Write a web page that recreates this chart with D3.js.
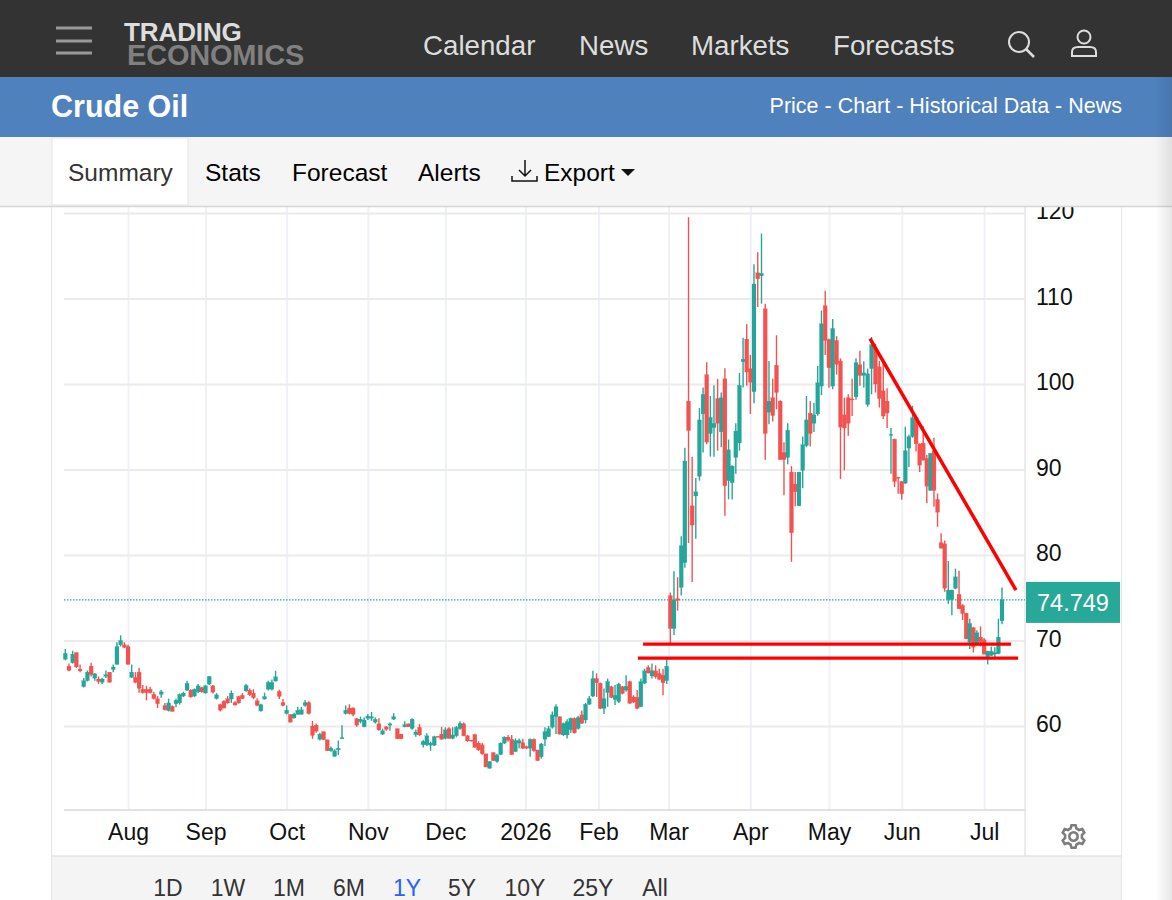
<!DOCTYPE html>
<meta charset="utf-8">
<style>
html, body { margin: 0; padding: 0; background: #fff; overflow: hidden; }
svg { display: block; }
text { font-family: "Liberation Sans", Arial, sans-serif; }
.grid line { stroke: #ebebeb; stroke-width: 2px; }
.grid path { display: none; }
.vgrid line { stroke: #eef2f6; stroke-width: 2px; }
.vgrid path, .vgrid text { display: none; }
.axis path, .axis line { display: none; }
.axis text { font-size: 23px; fill: #111; }
.nav { font-size: 27.7px; fill: #ddd; }
.tab { font-size: 24.5px; fill: #000; }
.range { font-size: 23px; fill: #333; text-anchor: middle; }
</style>
<body>
<script src="https://d3js.org/d3.v7.min.js"></script>
<script>

var priceTicks = [60, 70, 80, 90, 100, 110, 120];
var monthLabels = ["Aug", "Sep", "Oct", "Nov", "Dec", "2026", "Feb", "Mar", "Apr", "May", "Jun", "Jul"];
var monthBars = [17, 38, 60, 82, 103, 124.7, 144.5, 163.5, 186, 207, 226, 249];
var lastPrice = 74.749;

var opens = [
  67.8,67.0,67.4,68.6,66.65,64.6,65.3,67.0,65.6,65.5,
  65.1,65.8,66.3,66.6,67.2,69.5,69.5,69.3,65.7,65.7,
  66.3,64.3,64.3,64.3,63.7,63.2,63.7,62.4,61.8,62.3,
  62.6,62.7,63.5,64.2,64.2,63.5,64.0,64.5,63.85,64.9,
  64.7,63.2,62.5,62.9,63.2,63.15,62.75,63.45,63.6,64.1,
  64.2,63.85,62.95,61.75,63.15,64.3,64.3,65.25,64.05,62.75,
  61.45,61.35,60.95,61.35,61.35,62.4,62.75,60.0,60.1,58.45,
  59.35,58.4,57.1,56.45,57.2,58.5,61.45,62.1,62.1,60.85,
  60.5,59.9,60.9,60.9,60.45,60.25,59.05,59.9,60.1,60.8,
  59.7,59.05,59.9,60.25,59.7,59.0,59.85,57.8,57.8,57.75,
  57.75,58.8,59.05,58.55,59.7,58.55,58.85,59.7,60.25,58.85,
  58.35,59.0,58.0,57.8,56.75,55.05,56.9,55.85,56.65,58.0,
  58.7,58.45,57.0,58.0,58.05,57.6,57.4,58.45,57.2,56.4,
  58.45,58.75,59.85,61.1,61.1,58.95,58.95,59.55,60.9,59.7,
  61.3,60.7,62.55,63.5,65.55,65.0,62.05,63.9,64.6,63.1,
  62.85,64.6,64.2,65.2,63.4,63.35,62.25,65.0,66.85,65.85,
  66.45,66.15,65.95,65.3,75.25,71.4,74.9,76.2,79.1,98.0,
  85.75,86.9,89.2,96.5,101.1,94.2,94.9,98.3,94.4,100.6,
  88.7,88.45,91.4,93.1,102.6,105.25,101.8,99.1,113.0,112.65,
  108.8,96.7,98.4,102.2,98.0,92.0,91.4,89.7,88.3,85.75,
  89.9,92.8,96.6,95.4,96.5,99.75,109.15,105.2,99.75,105.1,
  102.7,96.4,98.4,98.25,98.5,102.25,101.0,97.6,101.8,104.2,102.0,
  99.2,98.0,94.0,93.55,89.1,88.6,88.4,92.5,93.85,96.05,
  93.0,93.1,91.3,87.55,92.2,86.5,81.45,81.3,74.8,74.8,
  76.1,75.4,74.1,73.2,69.8,71.5,69.6,70.4,70.1,68.1,68.25,68.4,68.45,72.3
];
var highs = [
  69.0,67.3,68.8,68.6,67.2,65.6,66.5,67.4,66.2,65.8,
  65.6,66.5,66.3,67.2,69.8,70.6,69.8,69.5,67.2,66.3,
  66.8,64.8,64.7,64.6,64.0,63.5,64.2,62.7,63.2,62.4,
  63.2,63.8,64.0,65.3,64.3,64.4,64.9,64.6,64.8,65.85,
  64.8,63.85,62.6,63.0,63.5,64.15,62.9,63.55,63.85,64.9,
  64.4,64.3,63.25,62.6,63.9,65.3,65.45,66.45,64.25,63.15,
  62.4,61.35,61.55,62.25,62.25,63.05,62.9,60.6,60.3,59.2,
  59.35,58.4,57.6,57.3,58.3,60.1,62.4,62.55,62.2,60.95,
  61.1,61.0,61.4,61.65,61.0,60.9,59.7,60.0,60.4,61.5,
  59.7,59.1,60.55,60.3,60.9,59.6,60.25,58.35,59.15,58.15,
  58.85,58.8,59.9,59.85,59.85,59.85,60.0,60.55,60.4,58.95,
  58.4,59.1,58.2,58.0,56.75,55.9,56.9,56.75,58.1,58.8,
  58.95,58.95,58.55,58.55,58.5,57.7,58.55,58.55,57.2,58.0,
  59.85,60.0,61.7,62.55,61.1,60.4,60.8,61.0,61.0,61.2,
  61.8,62.7,63.5,66.45,66.15,65.1,64.4,65.55,64.7,64.8,
  65.05,64.7,65.95,65.3,63.6,64.2,65.55,66.7,67.1,67.3,
  67.1,66.7,66.7,67.8,75.6,78.1,77.4,82.2,92.55,119.5,
  91.5,89.0,97.2,99.6,102.55,98.6,99.85,100.6,99.0,101.85,
  93.5,90.5,95.4,101.3,105.4,107.0,103.4,114.0,115.4,117.6,
  109.4,102.7,100.6,105.7,98.1,93.2,95.4,90.4,89.7,89.75,
  93.85,98.6,98.0,97.8,102.1,108.6,110.9,105.3,107.6,105.6,
  103.0,98.4,98.8,100.6,103.0,103.9,102.65,101.8,105.5,104.7,102.7,
  102.75,99.5,94.85,93.6,89.15,88.65,95.0,94.05,97.45,96.1,
  93.05,95.05,91.7,91.9,93.7,87.2,82.55,81.7,79.3,75.95,
  78.4,78.15,74.25,73.25,72.55,71.6,71.2,71.65,70.3,68.8,69.3,69.2,72.55,76.2
];
var lows = [
  67.7,66.4,67.3,66.8,66.3,64.5,65.2,65.8,65.3,64.9,
  64.9,65.6,65.1,66.3,67.2,69.3,69.1,67.2,65.6,65.0,
  63.9,63.8,63.0,63.8,63.1,62.1,63.3,61.8,61.7,61.7,
  62.2,62.5,63.4,64.1,63.3,63.4,63.85,63.9,63.8,64.8,
  63.8,63.1,61.7,62.05,62.6,62.7,62.4,62.6,63.15,64.0,
  63.5,63.15,62.3,61.7,63.1,64.15,64.15,65.2,63.15,62.3,
  61.35,60.4,60.85,61.35,61.35,62.25,61.35,58.5,59.2,58.3,
  58.35,57.1,57.0,56.4,56.6,58.5,61.35,61.35,61.15,59.9,
  60.3,59.85,60.7,60.6,60.3,59.45,58.95,59.45,59.45,60.7,
  58.5,58.45,59.85,59.9,59.55,58.75,58.85,57.5,57.65,57.1,
  57.65,58.65,58.4,58.45,58.5,58.45,58.7,59.55,58.8,58.15,
  58.2,57.45,57.1,56.65,55.2,55.0,55.9,55.7,56.6,57.9,
  58.15,56.6,56.95,57.4,57.3,57.3,56.4,57.0,55.9,56.2,
  57.65,58.7,59.7,59.05,59.0,58.85,58.55,59.2,59.1,59.6,
  60.25,60.3,62.45,63.4,63.4,62.0,61.4,62.25,63.25,62.45,
  62.7,63.7,64.0,62.6,62.7,61.95,62.2,64.9,66.15,65.55,
  65.55,65.4,63.6,64.9,69.65,70.65,73.5,75.25,78.5,81.4,
  76.85,81.9,88.7,92.0,92.95,91.5,91.5,92.2,92.6,84.6,
  86.5,86.5,89.5,92.2,99.6,99.8,96.5,97.75,109.0,109.4,
  91.15,95.3,95.6,97.05,91.15,87.0,90.6,79.2,85.7,85.7,
  87.8,92.6,92.7,94.4,96.3,98.7,103.4,99.55,99.4,101.1,
  88.9,89.9,93.95,96.25,98.15,99.8,99.6,97.35,98.8,99.0,97.25,
  95.9,94.85,89.5,87.95,87.15,86.45,88.3,90.3,93.7,92.1,
  89.7,91.05,86.05,87.5,85.65,83.3,80.75,75.7,74.3,72.95,
  76.0,73.65,72.4,70.15,69.0,68.6,69.4,69.3,68.35,67.2,68.2,68.0,68.4,71.9
];
var closes = [
  68.5,66.5,68.4,66.9,66.45,65.3,66.3,66.0,66.1,65.2,
  65.5,66.0,65.1,66.9,69.3,70.0,69.2,67.2,66.3,65.1,
  64.4,63.9,63.9,63.9,63.2,62.6,64.0,61.9,62.7,61.7,
  63.0,63.7,63.85,65.0,63.4,64.3,64.7,64.0,64.7,65.8,
  63.95,63.65,61.85,62.1,62.7,63.85,62.45,62.7,63.2,64.75,
  63.65,63.3,62.4,62.5,63.45,65.1,65.1,65.75,63.45,62.4,
  61.85,60.45,61.4,61.85,61.9,62.75,61.45,58.9,59.4,59.05,
  58.4,57.1,57.4,57.1,57.4,58.65,61.85,61.45,61.35,60.1,
  60.8,60.7,61.15,61.1,60.8,59.55,59.45,59.6,60.25,61.1,
  58.5,58.5,60.15,59.9,60.8,59.3,58.95,58.2,58.85,58.0,
  58.75,58.7,58.45,59.55,58.55,58.95,59.85,60.3,58.85,58.25,
  58.25,57.5,57.2,56.75,55.2,55.85,55.95,56.6,58.0,58.7,
  58.35,56.65,58.3,58.3,57.4,57.4,58.45,57.1,55.95,57.9,
  59.35,59.7,61.3,62.25,59.05,60.3,60.5,60.9,59.2,61.0,
  60.3,62.55,63.2,65.55,65.05,62.05,63.2,65.2,63.35,63.6,
  64.9,63.8,64.65,62.65,62.8,62.05,65.2,66.45,66.2,66.45,
  65.75,65.45,65.05,67.0,71.4,74.75,74.7,81.1,91.0,94.55,
  83.5,87.4,95.8,98.8,93.2,96.1,95.4,95.4,98.4,88.1,
  92.3,90.4,94.5,99.85,102.9,101.4,100.2,111.7,112.3,112.95,
  94.2,98.0,96.3,99.0,91.15,91.15,94.6,82.6,87.4,89.7,
  92.9,95.8,94.2,96.4,100.15,107.05,105.1,101.9,106.5,102.3,
  94.95,94.85,95.4,98.2,102.5,101.0,101.3,101.2,104.6,100.0,98.3,
  96.25,96.6,94.1,88.6,89.0,87.15,92.2,93.85,96.05,93.0,
  90.5,91.1,88.05,91.9,87.55,85.0,80.8,76.1,75.9,75.9,
  77.45,73.7,73.15,70.2,72.0,69.2,70.9,69.8,68.4,68.75,68.75,68.6,70.4,74.75
];

// hand drawn lines on the chart: bar number and price at each end
var trendBars = [217.6, 257.9], trendPrices = [105.3, 75.9];
var upperBars = [156.6, 256.5], upperPrice = 69.57;
var lowerBars = [155.2, 258.5], lowerPrice = 67.93;

var navItems = ["Calendar", "News", "Markets", "Forecasts"];
var tabItems = ["Stats", "Forecast", "Alerts"];
var rangeItems = ["1D", "1W", "1M", "6M", "1Y", "5Y", "10Y", "25Y", "All"];

var width = 1172, height = 900;
var plotLeft = 64, plotRight = 1025, plotBottom = 810, plotTop = 207;
var green = "#26a69a", red = "#f05350";

// bars are not quite evenly spaced over the year, so the scale is pinned in a few places
var x = d3.scaleLinear()
    .domain([0, 163, 187, 208, 223, opens.length - 1])
    .range([65.3, 666.7, 754, 832.7, 891, 1002]);
var y = d3.scaleLinear().domain([60, 120]).range([726, 213]);

var svg = d3.select("body").append("svg")
    .attr("width", width)
    .attr("height", height);

svg.append("rect").attr("width", width).attr("height", height).attr("fill", "#fff");

// ---- chart
var chart = svg.append("g");

chart.append("g")
    .attr("class", "vgrid")
    .attr("transform", "translate(0," + plotBottom + ")")
    .call(d3.axisBottom(x).tickValues(monthBars).tickSize(-(plotBottom - plotTop)));

chart.append("g")
    .attr("class", "grid")
    .attr("transform", "translate(" + plotRight + ",0)")
    .call(d3.axisLeft(y).tickValues(priceTicks).tickSize(plotRight - plotLeft).tickFormat(""));

chart.append("line")
    .attr("x1", plotLeft).attr("x2", plotRight + 1)
    .attr("y1", plotBottom).attr("y2", plotBottom)
    .attr("stroke", "#e3e3e3").attr("stroke-width", 2);
chart.append("line")
    .attr("x1", plotRight).attr("x2", plotRight)
    .attr("y1", plotTop).attr("y2", 856)
    .attr("stroke", "#e6e6e6").attr("stroke-width", 1.5);

// last price dotted line
chart.append("line")
    .attr("x1", plotLeft).attr("x2", plotRight)
    .attr("y1", y(lastPrice)).attr("y2", y(lastPrice))
    .attr("stroke", green).attr("stroke-width", 1.2).attr("stroke-dasharray", "1.5 1.5");

// candles
var candle = chart.append("g").selectAll("g")
    .data(opens.map(function(d, i) { return i; }))
  .enter().append("g")
    .attr("fill", function(i) { return closes[i] >= opens[i] ? green : red; })
    .attr("stroke", function(i) { return closes[i] >= opens[i] ? green : red; });

candle.append("line")
    .attr("x1", function(i) { return x(i); })
    .attr("x2", function(i) { return x(i); })
    .attr("y1", function(i) { return y(highs[i]); })
    .attr("y2", function(i) { return y(lows[i]); })
    .attr("stroke-width", 1.4);

candle.append("rect")
    .attr("x", function(i) { return x(i) - 2; })
    .attr("width", 4)
    .attr("y", function(i) { return y(Math.max(opens[i], closes[i])); })
    .attr("height", function(i) { return Math.max(1, Math.abs(y(opens[i]) - y(closes[i]))); })
    .attr("stroke-width", 0.2);

// red annotation lines
function redLine(bars, prices, w) {
  chart.append("line")
      .attr("x1", x(bars[0])).attr("x2", x(bars[1]))
      .attr("y1", y(prices[0])).attr("y2", y(prices[1]))
      .attr("stroke", "#fe0000").attr("stroke-width", w);
}
redLine(trendBars, trendPrices, 3.5);
redLine(upperBars, [upperPrice, upperPrice], 3.2);
redLine(lowerBars, [lowerPrice, lowerPrice], 3.2);

// axes
var yAxis = chart.append("g")
    .attr("class", "axis")
    .attr("transform", "translate(" + plotRight + ",0)")
    .call(d3.axisRight(y).tickValues(priceTicks).tickSize(0).tickPadding(11));
yAxis.selectAll("text").attr("dy", "0.24em");

chart.append("g")
    .attr("class", "axis")
    .attr("transform", "translate(0," + plotBottom + ")")
    .call(d3.axisBottom(x).tickValues(monthBars).tickSize(0).tickPadding(14)
      .tickFormat(function(d, i) { return monthLabels[i]; }));

// price tag
chart.append("rect")
    .attr("x", plotRight + 1).attr("y", y(lastPrice) - 18)
    .attr("width", 94).attr("height", 41)
    .attr("fill", "#28a899");
chart.append("text")
    .attr("x", plotRight + 48).attr("y", y(lastPrice) + 11.5)
    .attr("text-anchor", "middle")
    .attr("fill", "#fff").style("font-size", "23.5px")
    .text(lastPrice);

// frame
chart.append("line").attr("x1", 51.5).attr("x2", 51.5).attr("y1", plotTop).attr("y2", height)
    .attr("stroke", "#e6e6e6");
chart.append("line").attr("x1", 1121.5).attr("x2", 1121.5).attr("y1", plotTop).attr("y2", height)
    .attr("stroke", "#e6e6e6");

// settings gear
var gear = svg.append("g").attr("transform", "translate(1073.5,836.5)")
    .attr("fill", "none").attr("stroke", "#7d7d7d").attr("stroke-width", 2.6);
gear.append("circle").attr("r", 4.2);
gear.append("path").attr("d", d3.range(0, 6).map(function(k) {
  var a = k * Math.PI / 3 - Math.PI / 2, b = Math.PI / 9;
  function pt(r, t) { return (r * Math.cos(t)).toFixed(1) + "," + (r * Math.sin(t)).toFixed(1); }
  return (k ? "L" : "M") + pt(11.5, a - b / 2) + "L" + pt(11.5, a + b / 2) + "L" + pt(8.5, a + b) + "L" + pt(8.5, a + Math.PI / 3 - b);
}).join("") + "Z");

// range selector strip
svg.append("rect").attr("x", 52).attr("y", 856).attr("width", 1069).attr("height", 44)
    .attr("fill", "#f4f4f4");
svg.append("line").attr("x1", 52).attr("x2", 1121).attr("y1", 856).attr("y2", 856)
    .attr("stroke", "#e3e3e3").attr("stroke-width", 1.5);
var rangeX = [168, 228, 289, 349, 407, 462, 525, 593, 655];
svg.selectAll(".range")
    .data(rangeItems)
  .enter().append("text")
    .attr("class", "range")
    .attr("x", function(d, i) { return rangeX[i]; })
    .attr("y", 896)
    .style("fill", function(d) { return d == "1Y" ? "#2962ff" : "#333"; })
    .text(function(d) { return d; });

// ---- tab bar, sits over the top of the chart
svg.append("rect").attr("y", 137).attr("width", width).attr("height", 70).attr("fill", "#f5f5f5");
svg.append("line").attr("x1", 0).attr("x2", width).attr("y1", 206.5).attr("y2", 206.5)
    .attr("stroke", "#d5d5d5").attr("stroke-width", 1.5);
svg.append("rect").attr("x", 52).attr("y", 138).attr("width", 136).attr("height", 67)
    .attr("fill", "#fff").attr("stroke", "#e3e3e3");
svg.append("text").attr("class", "tab").attr("x", 68).attr("y", 181).style("fill", "#333").text("Summary");
var tabX = [205, 292, 418];
svg.selectAll(".tabitem")
    .data(tabItems)
  .enter().append("text")
    .attr("class", "tab tabitem")
    .attr("x", function(d, i) { return tabX[i]; })
    .attr("y", 181)
    .text(function(d) { return d; });
svg.append("text").attr("class", "tab").attr("x", 544).attr("y", 181).text("Export");
svg.append("path").attr("d", "M525 160V176M519 170L525 176L531 170M512 176V181H537V176")
    .attr("fill", "none").attr("stroke", "#111").attr("stroke-width", 1.5);
svg.append("path").attr("d", "M621 169H635L628 176Z").attr("fill", "#111");

// ---- blue title bar
svg.append("rect").attr("y", 77).attr("width", width).attr("height", 60).attr("fill", "#4f81bd");
svg.append("text").attr("x", 51).attr("y", 117)
    .attr("fill", "#fff")
    .style("font-size", "30.5px").style("font-weight", 700)
    .text("Crude Oil");
svg.append("text").attr("x", 1122).attr("y", 113)
    .attr("text-anchor", "end").attr("fill", "#fff").style("font-size", "21.5px")
    .text("Price - Chart - Historical Data - News");

// ---- dark top bar
svg.append("rect").attr("width", width).attr("height", 77).attr("fill", "#333");
svg.selectAll(".burger")
    .data([28, 41, 53])
  .enter().append("line")
    .attr("class", "burger")
    .attr("x1", 56).attr("x2", 92)
    .attr("y1", function(d) { return d; }).attr("y2", function(d) { return d; })
    .attr("stroke", "#999").attr("stroke-width", 3);
var logo = svg.append("text").style("font-weight", 700);
logo.append("tspan").attr("x", 124).attr("y", 41)
    .attr("fill", "#ddd").style("font-size", "26px").style("letter-spacing", "-0.1px")
    .text("TRADING");
logo.append("tspan").attr("x", 127).attr("y", 65)
    .attr("fill", "#808080").style("font-size", "29px").style("letter-spacing", "-0.2px")
    .text("ECONOMICS");
var navX = [423, 579, 691, 833];
svg.selectAll(".nav")
    .data(navItems)
  .enter().append("text")
    .attr("class", "nav")
    .attr("x", function(d, i) { return navX[i]; })
    .attr("y", 55)
    .text(function(d) { return d; });
svg.append("circle").attr("cx", 1019).attr("cy", 42).attr("r", 10)
    .attr("fill", "none").attr("stroke", "#ddd").attr("stroke-width", 2);
svg.append("line").attr("x1", 1026).attr("y1", 49).attr("x2", 1034).attr("y2", 57)
    .attr("stroke", "#ddd").attr("stroke-width", 2.5);
svg.append("circle").attr("cx", 1084).attr("cy", 37).attr("r", 6.5)
    .attr("fill", "none").attr("stroke", "#ddd").attr("stroke-width", 2);
svg.append("path").attr("d", "M1072 56V52Q1072 47 1078 47H1090Q1096 47 1096 52V56Z")
    .attr("fill", "none").attr("stroke", "#ddd").attr("stroke-width", 2);

// soft shadow down the right edge of the page
var shade = svg.append("defs").append("linearGradient").attr("id", "edge");
shade.append("stop").attr("offset", 0).attr("stop-color", "#000").attr("stop-opacity", 0);
shade.append("stop").attr("offset", 1).attr("stop-color", "#000").attr("stop-opacity", 0.09);
svg.append("rect").attr("x", 1155).attr("y", 77).attr("width", 17).attr("height", height - 77)
    .attr("fill", "url(#edge)");

</script>
</body>
